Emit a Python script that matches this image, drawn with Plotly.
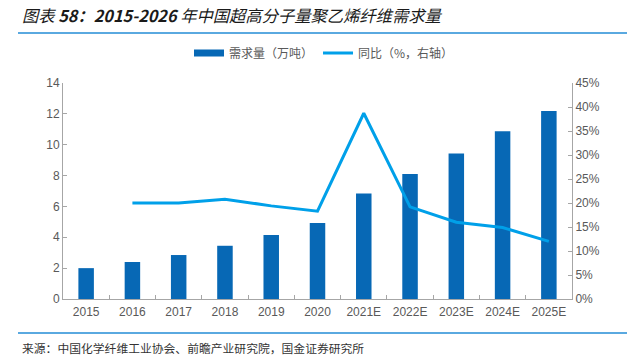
import plotly.graph_objects as go

categories = ["2015", "2016", "2017", "2018", "2019", "2020",
              "2021E", "2022E", "2023E", "2024E", "2025E"]
demand = [2.0, 2.4, 2.85, 3.45, 4.15, 4.93, 6.83, 8.1, 9.43, 10.88, 12.18]
yoy_cats = ["2016", "2017", "2018", "2019", "2020",
            "2021E", "2022E", "2023E", "2024E", "2025E"]
yoy = [0.200, 0.200, 0.208, 0.194, 0.183, 0.387, 0.192, 0.160, 0.149, 0.120]

BAR = "#0768B5"
LINE = "#00A0E9"
GRAY = "#595959"
AX = "#A6A6A6"
FONT = "Liberation Sans, Noto Sans CJK SC, sans-serif"

W, H = 627, 358
L, R, T, B = 63, 572, 83, 299
pw, ph = R - L, B - T

def px_x(x):
    return (x - L) / pw

def px_y(y):
    return (B - y) / ph

fig = go.Figure()
fig.add_trace(go.Bar(x=categories, y=demand, marker_color=BAR,
                     marker_line_width=0, showlegend=False,
                     name="需求量（万吨）"))
# legend-only entry for the bars (wide rectangle like the reference)
fig.add_trace(go.Scatter(x=[None], y=[None], mode="lines",
                         line=dict(color=BAR, width=7),
                         name="需求量（万吨）"))
fig.add_trace(go.Scatter(x=yoy_cats, y=yoy, mode="lines",
                         line=dict(color=LINE, width=3),
                         name="同比（%，右轴）", yaxis="y2"))

fig.update_layout(
    width=W, height=H,
    margin=dict(l=L, r=W - R, t=T, b=H - B, pad=0),
    paper_bgcolor="white", plot_bgcolor="white",
    font=dict(family=FONT, size=12, color=GRAY),
    bargap=0.665,
    title=dict(
        text="<i>图表 <b>58：2015-2026</b> 年中国超高分子量聚乙烯纤维需求量</i>",
        x=22 / W, y=1 - 16 / H, xref="container", yref="container",
        xanchor="left", yanchor="middle",
        font=dict(family="Noto Sans CJK SC, sans-serif", size=16.3, color="#1a1a1a"),
    ),
    legend=dict(orientation="h", x=px_x(324), y=px_y(53), xanchor="center",
                yanchor="middle", font=dict(size=12, color=GRAY,
                family="Noto Sans CJK SC, sans-serif"),
                itemwidth=30, tracegroupgap=0, bgcolor="rgba(0,0,0,0)"),
    xaxis=dict(type="category", showline=True, linecolor=AX, linewidth=1,
               ticks="inside", ticklen=4, tickcolor=AX, tickson="boundaries",
               showgrid=False, tickfont=dict(size=12, color=GRAY),
               ticklabelstandoff=2,
               range=[-0.5, len(categories) - 0.5]),
    yaxis=dict(range=[0, 14], dtick=2, showline=True, linecolor=AX,
               linewidth=1, ticks="inside", ticklen=4, tickcolor=AX,
               showgrid=False, zeroline=False,
               tickfont=dict(size=12, color=GRAY)),
    yaxis2=dict(range=[0, 0.45], dtick=0.05, tickformat=".0%", overlaying="y",
                side="right", showline=True, linecolor=AX, linewidth=1,
                ticks="inside", ticklen=4, tickcolor=AX, showgrid=False,
                zeroline=False, tickfont=dict(size=12, color=GRAY)),
    shapes=[
        dict(type="line", xref="paper", yref="paper",
             x0=px_x(18), x1=px_x(627), y0=px_y(33), y1=px_y(33),
             line=dict(color="#5AA9E0", width=2)),
        dict(type="line", xref="paper", yref="paper",
             x0=px_x(18), x1=px_x(627), y0=px_y(333), y1=px_y(333),
             line=dict(color="#5AA9E0", width=2)),
    ],
    annotations=[
        dict(text="来源：中国化学纤维工业协会、前瞻产业研究院，国金证券研究所",
             xref="paper", yref="paper", x=px_x(20), y=px_y(347),
             xanchor="left", yanchor="middle", showarrow=False,
             font=dict(family="Noto Sans CJK SC, sans-serif", size=11.8,
                       color="#333333")),
    ],
)

fig.write_html("out.html",
               config={"displayModeBar": False},
               post_script="document.body.style.margin='0';"
                           "document.body.style.overflow='hidden';")
